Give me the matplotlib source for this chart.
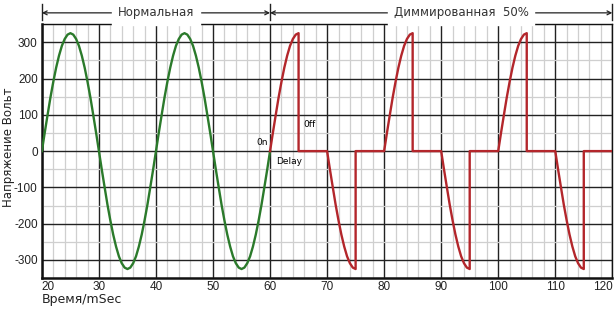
import matplotlib
matplotlib.use("Agg")
import matplotlib.pyplot as plt
from matplotlib.ticker import MultipleLocator

plt.rcParams["axes.unicode_minus"] = False

# Half-cycle of the 50 Hz mains (0.5 ms steps, volts)
half_cycle = [0, 51, 100, 148, 191, 230, 263, 290, 309, 321, 325,
              321, 309, 290, 263, 230, 191, 148, 100, 51, 0]
# Dimmed waveform: conducting part of each half-cycle (0..5 ms)
on_part = [0, 51, 100, 148, 191, 230, 263, 290, 309, 321, 325]

normal_start, normal_end = 20, 60
dim_start, dim_end = 60, 120
step = 0.5
half_period = 10

x_ticks = [20, 30, 40, 50, 60, 70, 80, 90, 100, 110, 120]
y_ticks = [-300, -200, -100, 0, 100, 200, 300]

# green: normal sine wave
t_norm, v_norm = [], []
sign = 1
t0 = normal_start
while t0 < normal_end:
    for i, v in enumerate(half_cycle):
        t_norm.append(t0 + i * step)
        v_norm.append(sign * v)
    sign = -sign
    t0 += half_period

# red: trailing-edge dimmed 50 %
t_dim, v_dim = [], []
sign = 1
t0 = dim_start
while t0 < dim_end:
    for i, v in enumerate(on_part):
        t_dim.append(t0 + i * step)
        v_dim.append(sign * v)
    t_dim += [t0 + 5, t0 + half_period]
    v_dim += [0, 0]
    sign = -sign
    t0 += half_period

fig = plt.figure(figsize=(6.16, 3.09), dpi=100)
ax = fig.add_axes([0.068, 0.100, 0.926, 0.822])

ax.plot(t_norm, v_norm, color="#2b7a2b", linewidth=1.7, zorder=3)
ax.plot(t_dim, v_dim, color="#b3262b", linewidth=1.7, zorder=3)

ax.set_xlim(20, 120)
ax.set_ylim(-350, 350)
ax.set_xticks(x_ticks)
ax.set_yticks(y_ticks)
ax.xaxis.set_minor_locator(MultipleLocator(2))
ax.yaxis.set_minor_locator(MultipleLocator(50))
ax.grid(which="minor", color="#cfcfcf", linewidth=0.9)
ax.grid(which="major", color="#222222", linewidth=1.0)
ax.set_axisbelow(True)
ax.tick_params(which="both", length=0, pad=3, colors="#222222")
ax.tick_params(axis="x", pad=2)
for lbl in ax.get_xticklabels() + ax.get_yticklabels():
    lbl.set_fontfamily("Liberation Sans")
    lbl.set_fontsize(8.5)
xlabels = ax.get_xticklabels()
xlabels[0].set_horizontalalignment("left")
xlabels[-1].set_horizontalalignment("right")
for s in ax.spines.values():
    s.set_color("#111111")
    s.set_linewidth(1.0)
ax.spines["left"].set_linewidth(1.8)
ax.spines["bottom"].set_linewidth(1.8)

fig.text(0.013, 0.524, "Напряжение Вольт", fontsize=8.5, rotation=90,
         ha="center", va="center", color="#222222")
fig.text(0.068, 0.032, "Время/mSec", fontsize=9, ha="left", va="center",
         color="#222222")

# header arrows
y_hdr = 381
for a, b, label, xc in [(20, 60, "Нормальная", 40),
                        (60, 120, "Диммированная  50%", 93.5)]:
    ax.annotate("", xy=(a, y_hdr), xytext=(b, y_hdr),
                arrowprops=dict(arrowstyle="<->", color="#222222", lw=0.9,
                                shrinkA=0, shrinkB=0, mutation_scale=7),
                annotation_clip=False)
    ax.text(xc, y_hdr, label, fontsize=8.5, ha="center", va="center",
            color="#333333", backgroundcolor="white", clip_on=False)
for xb in [20, 60, 120]:
    ax.plot([xb, xb], [360, 405], color="#222222", lw=1.0, clip_on=False)

# small annotations
ax.text(59.6, 12, "0n", fontsize=6.5, ha="right", va="bottom")
ax.text(65.9, 74, "0ff", fontsize=6.5, ha="left", va="center")
ax.text(61, -28, "Delay", fontsize=6.5, ha="left", va="center")

fig.savefig("out.png", dpi=100)
